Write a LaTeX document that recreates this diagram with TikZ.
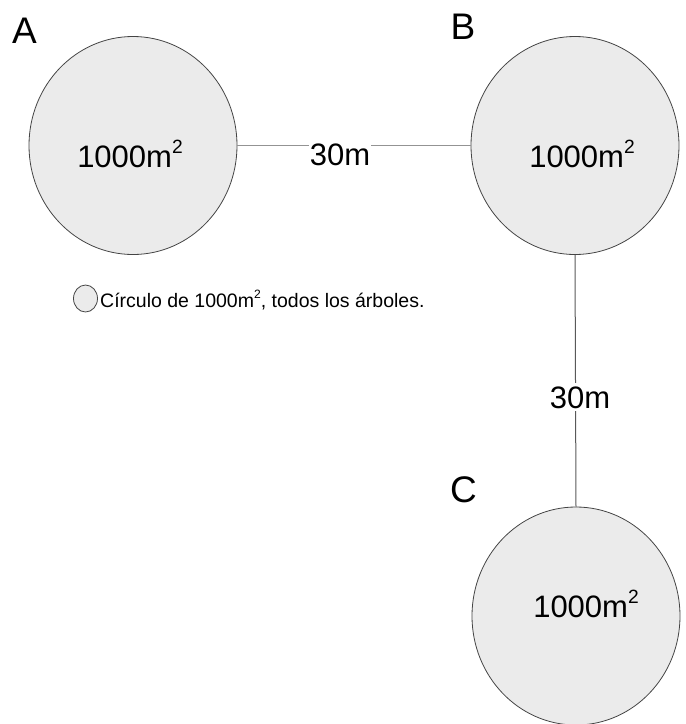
\documentclass[tikz,border=0pt]{standalone}
\usepackage{fontspec}
\setmainfont{Liberation Sans}
\usetikzlibrary{shapes.geometric}
\definecolor{plotfill}{HTML}{EBEBEB}
\definecolor{rimcol}{HTML}{444444}
\newcommand{\sqtwo}{\raisebox{0.42em}{\scalebox{0.62}{2}}}
\begin{document}
\begin{tikzpicture}[x=1pt,y=-1pt,
  plot/.style={ellipse,draw=rimcol,fill=plotfill,line width=0.8pt,minimum width=208pt,minimum height=218pt,inner sep=0pt},
  area/.style={font=\fontsize{31}{31}\selectfont,anchor=base,inner sep=0pt},
  letter/.style={font=\fontsize{37}{37}\selectfont,anchor=base,inner sep=0pt},
  dist/.style={font=\fontsize{31}{31}\selectfont,anchor=base,fill=white,inner sep=1pt},
  conn/.style={line width=1pt}]
\useasboundingbox (0,0) rectangle (686,724);
% plots
\node[plot] (A) at (133,145.5) {};
\node[plot] (B) at (575,145.5) {};
\node[plot] (C) at (576,616) {};
% connectors
\draw[conn,draw=gray!85] (A.east) -- (B.west);
\draw[conn,draw=black!65] (B.south) -- (C.north);
\node[dist,inner ysep=0pt] (dAB) at (340,165) {30m};
\node[dist,inner ysep=3pt] (dBC) at (580,408) {30m};
% area labels
\node[area] (tA) at (130,167) {1000m\sqtwo};
\node[area] (tB) at (582,167) {1000m\sqtwo};
\node[area] (tC) at (586,617) {1000m\sqtwo};
% letters
\node[letter] (lA) at (24.5,43) {A};
\node[letter] (lB) at (463,39) {B};
\node[letter] (lC) at (463.5,502) {C};
% legend
\node[ellipse,draw=rimcol,fill=plotfill,line width=0.8pt,minimum width=24pt,minimum height=27pt,inner sep=0pt] (leg) at (85.5,298.5) {};
\node[font=\fontsize{19.5}{19.5}\selectfont,anchor=base west,inner sep=0pt] (legtext) at (100,307) {Círculo de 1000m\sqtwo, todos los árboles.};
\end{tikzpicture}
\end{document}
